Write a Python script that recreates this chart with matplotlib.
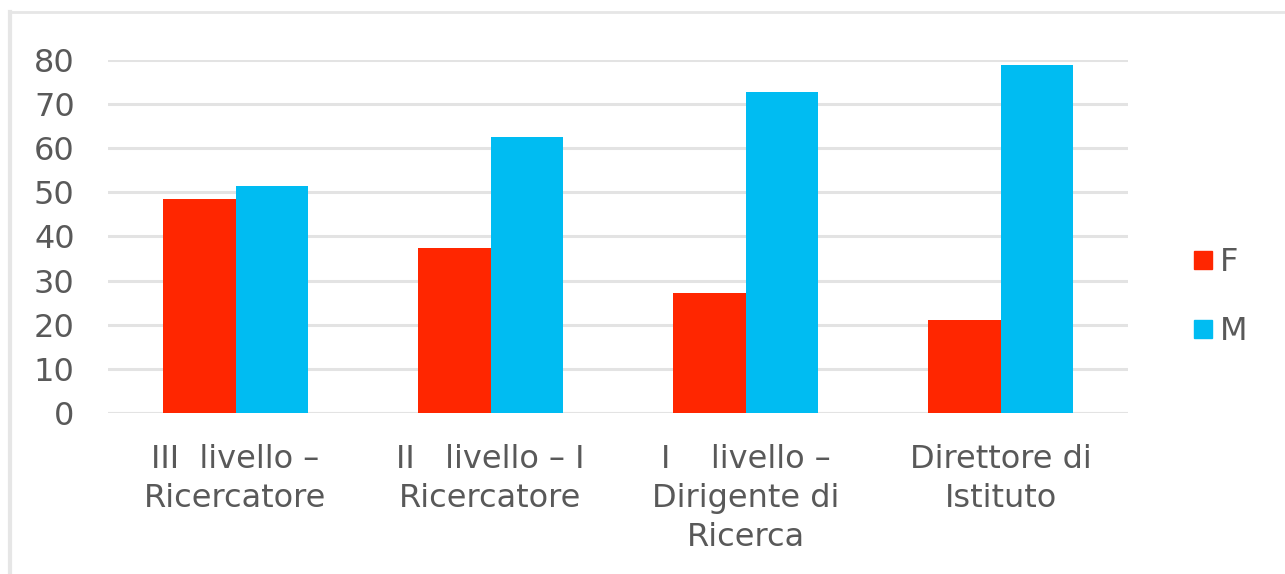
import matplotlib.pyplot as plt
import numpy as np
from matplotlib.lines import Line2D

categories = ["III  livello –\nRicercatore", "II   livello – I\nRicercatore",
              "I    livello –\nDirigente di\nRicerca", "Direttore di\nIstituto"]
f_values = [48.5, 37.5, 27.3, 21.1]
m_values = [51.5, 62.5, 72.7, 78.9]
y_ticks = [0, 10, 20, 30, 40, 50, 60, 70, 80]

red = '#ff2600'
blue = '#00bcf2'
text_col = '#595959'
grid_col = '#e3e3e3'

plt.rcParams['font.family'] = ['DejaVu Sans']

fig = plt.figure(figsize=(12.85, 5.74), dpi=100)
W, H = 1285, 574
ax = fig.add_axes([108 / W, 1 - 413 / H, 1020 / W, 353 / H])

x = np.arange(len(categories))
w = 0.286
ax.bar(x - w / 2, f_values, w, color=red, label='F')
ax.bar(x + w / 2, m_values, w, color=blue, label='M')

ax.set_xlim(-0.5, len(categories) - 0.5)
ax.set_ylim(0, 80)
ax.set_yticks(y_ticks)
ax.set_yticklabels([str(t) for t in y_ticks], fontsize=23, color=text_col)
ax.set_xticks(x)
ax.set_xticklabels(categories, fontsize=23, color=text_col, linespacing=1.35)
ax.tick_params(length=0)
ax.tick_params(axis='y', pad=24)
ax.tick_params(axis='x', pad=22)
for s in ax.spines.values():
    s.set_visible(False)
ax.grid(axis='y', color=grid_col, linewidth=2.2)
ax.set_axisbelow(True)
ax.axhline(0, color=grid_col, linewidth=2.2, zorder=0)

handles = [Line2D([], [], marker='s', linestyle='', markersize=13, color=red),
           Line2D([], [], marker='s', linestyle='', markersize=13, color=blue)]
leg = fig.legend(handles, ['F', 'M'], loc='center left',
                 bbox_to_anchor=(1158 / W, 1 - 297 / H), frameon=False,
                 fontsize=23, handletextpad=0.05, labelspacing=1.2,
                 handlelength=1.0)
for t in leg.get_texts():
    t.set_color(text_col)

# light frame lines on left and top edges
fig.add_artist(Line2D([10 / W, 10 / W], [0, 1 - 12 / H], color='#e6e6e6',
                      linewidth=3, transform=fig.transFigure))
fig.add_artist(Line2D([10 / W, 1], [1 - 12 / H, 1 - 12 / H], color='#e6e6e6',
                      linewidth=2, transform=fig.transFigure))

fig.savefig('out.png', dpi=100)
